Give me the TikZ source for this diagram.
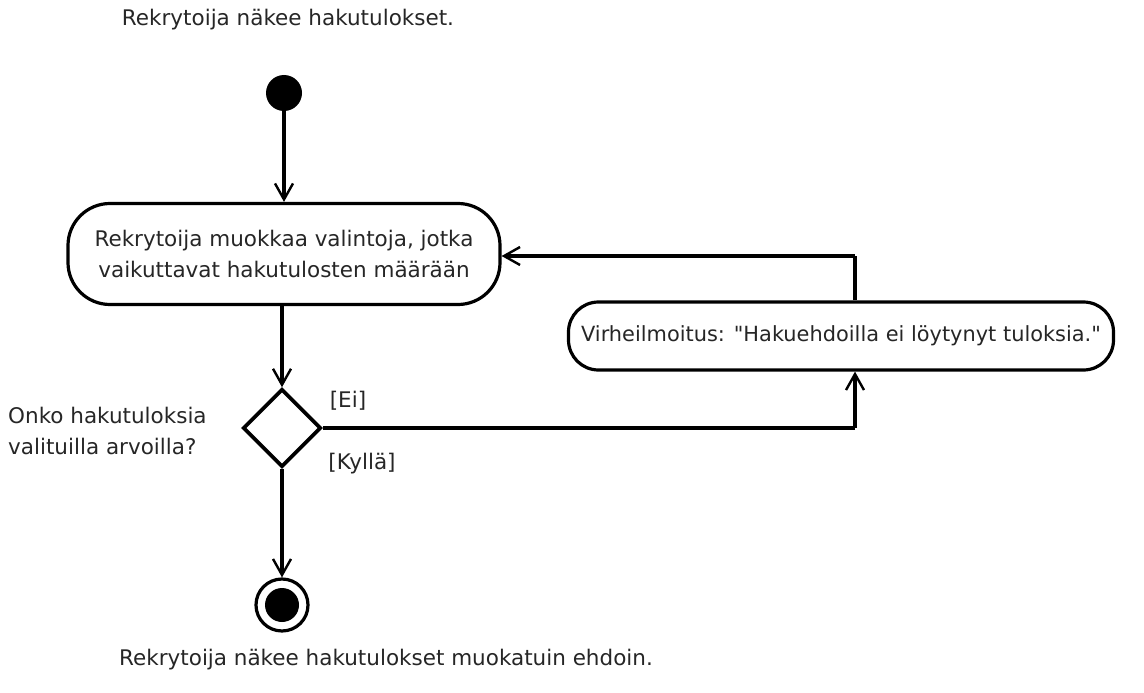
\documentclass[tikz,border=0pt]{standalone}
\usepackage{fontspec}
\setmainfont{DejaVu Sans}[Ligatures=TeXOff]
\usetikzlibrary{arrows.meta,shapes.geometric}
\begin{document}
\begin{tikzpicture}[x=1pt,y=-1pt,
  txt/.style={font=\fontsize{21.5}{31}\selectfont, text=black!85, inner sep=0pt},
  flow/.style={line width=3.2pt, -{Straight Barb[length=16pt,width=18pt,line width=2.4pt]}},
  plain/.style={line width=3.2pt},
  action/.style={draw, line width=3.2pt, align=center, inner sep=0pt},
  decision/.style={draw, diamond, line width=3.6pt, minimum width=78pt, minimum height=78pt, inner sep=0pt}]
\useasboundingbox (0,0) rectangle (1144,693);

% start and end
\node[txt] (pre) at (288,20) {Rekrytoija näkee hakutulokset.};
\node[circle, fill=black, minimum size=36pt, inner sep=0pt] (start) at (284,93) {};

% activity
\node[action, txt, rounded corners=42pt, minimum width=432pt, minimum height=101pt] (edit) at (284,254)
  {Rekrytoija muokkaa valintoja, jotka\\vaikuttavat hakutulosten määrään};

% decision
\node[decision] (dec) at (282,428) {};
\node[txt, align=left, anchor=west] (q) at (8,431) {Onko hakutuloksia\\valituilla arvoilla?};
\node[txt] (ei) at (348,401) {[Ei]};
\node[txt] (kylla) at (362,464) {[Kyllä]};

% error message
\node[action, txt, font=\fontsize{20.9}{30}\selectfont, rounded corners=30pt, minimum width=545pt, minimum height=68pt] (err) at (841,336)
  {Virheilmoitus: "Hakuehdoilla ei löytynyt tuloksia."};
\coordinate (c1) at (855,428);
\coordinate (c2) at (855,256);

% final node
\node[circle, draw, line width=3.2pt, minimum size=52pt, inner sep=0pt] (fin) at (282,605) {};
\node[circle, fill=black, minimum size=34pt, inner sep=0pt] (finin) at (fin) {};
\node[txt] (post) at (386,660) {Rekrytoija näkee hakutulokset muokatuin ehdoin.};

% flows
\draw[flow] (start) -- (start |- edit.north);
\draw[flow] (edit.south -| dec.north) -- (dec.north);
\draw[flow] (dec.south) -- (fin.north);
\draw[plain] (dec.east) -- (c1);
\draw[flow] (c1) -- (c1 |- err.south);
\draw[plain] (c2 |- err.north) -- (c2);
\draw[flow] (c2) -- (edit.east |- c2);
\end{tikzpicture}
\end{document}
